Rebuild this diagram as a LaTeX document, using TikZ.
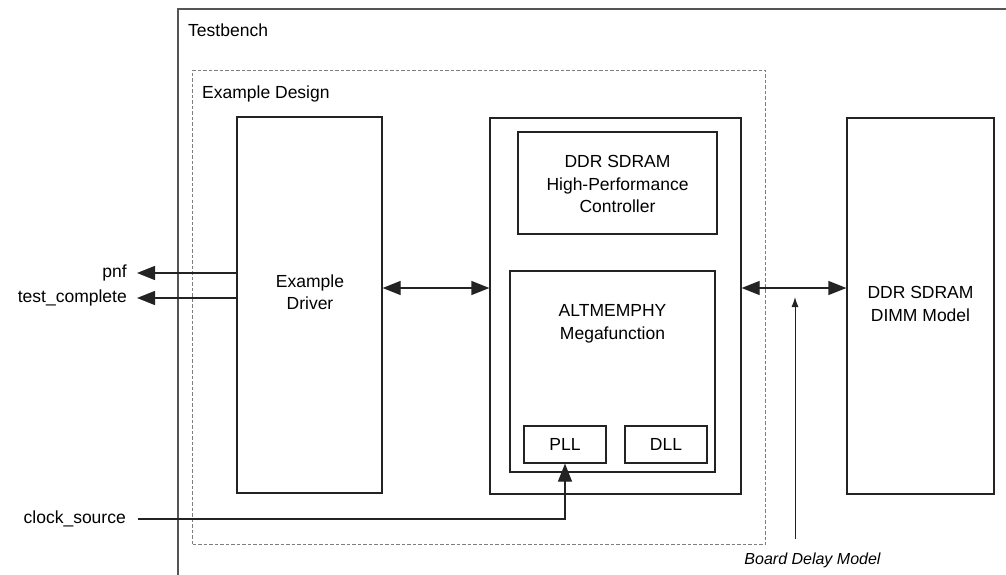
\documentclass[tikz,border=0pt]{standalone}
\usepackage{fontspec}
\setmainfont{Liberation Sans}
\usetikzlibrary{arrows.meta}
\definecolor{FrameGray}{RGB}{85,85,85}
\definecolor{DashGray}{RGB}{125,125,125}
\definecolor{LineDark}{RGB}{35,35,35}

\begin{document}
\begin{tikzpicture}[x=1pt, y=-1pt, font=\fontsize{17.5}{22.5}\selectfont]
    \tikzstyle{blk} = [draw=LineDark, line width=1.2pt, rectangle, inner sep=0pt]
    \tikzstyle{txt} = [align=center, inner sep=0pt]
    \tikzstyle{sig} = [LineDark, line width=1.2pt, -{Triangle[length=18pt,width=14pt]}]
    \tikzstyle{bus} = [LineDark, line width=1.2pt, {Triangle[length=18pt,width=14pt]}-{Triangle[length=18pt,width=14pt]}]
    \useasboundingbox (0,0) rectangle (1006,575);

    % testbench (cut off at the right and bottom)
    \draw[FrameGray, line width=1.4pt] (1006,9) -- (178,9) -- (178,575);
    \node[txt, anchor=west] (tb) at (188,30) {Testbench};

    % example design
    \node[draw=DashGray, line width=1pt, dash pattern=on 3.5pt off 2pt, inner sep=0pt,
          minimum width=573pt, minimum height=474pt, anchor=north west] (ed) at (192,70) {};
    \node[txt, anchor=west] (edl) at (202,94) {Example Design};

    \node[blk, minimum width=145pt, minimum height=376pt] (drv) at (309.5,305) {};
    \node[txt] (drvl) at (310,292) {Example\\Driver};

    \node[blk, minimum width=251pt, minimum height=376pt] (mid) at (615.5,306) {};
    \node[blk, minimum width=199pt, minimum height=102pt] (hpc) at (617.5,183) {};
    \node[txt] (hpcl) at (617.5,184) {DDR SDRAM\\High-Performance\\Controller};
    \node[blk, minimum width=205pt, minimum height=201pt] (phy) at (612.5,371.5) {};
    \node[txt] (phyl) at (612.5,324) {ALTMEMPHY\\Megafunction};
    \node[blk, minimum width=82pt, minimum height=37pt] (pll) at (565,444.5) {PLL};
    \node[blk, minimum width=82pt, minimum height=37pt] (dll) at (666,444.5) {DLL};

    \node[blk, minimum width=147pt, minimum height=376pt] (dimm) at (920.5,306) {};
    \node[txt] (dimml) at (920.5,304) {DDR SDRAM\\DIMM Model};

    % ports
    \node[txt, anchor=east] (pnf) at (127,273) {pnf};
    \node[txt, anchor=east] (tc) at (127,298) {test\_complete};
    \node[txt, anchor=east] (clk) at (126,519) {clock\_source};

    \coordinate (lvl) at (0,288);
    \draw[bus] (drv.east |- lvl) -- (mid.west |- lvl);
    \draw[bus] (mid.east |- lvl) -- (dimm.west |- lvl);

    \draw[sig] (drv.west |- pnf) -- ([xshift=10pt]pnf.east);
    \draw[sig] (drv.west |- tc) -- ([xshift=10pt]tc.east);
    \draw[sig] ([xshift=12pt]clk.east) -| (pll.south);

    % board delay
    \node[txt, font=\itshape\fontsize{16}{19}\selectfont] (bdm) at (812.5,560) {Board Delay Model};
    \coordinate (bdlo) at (795,539);
    \coordinate (bdhi) at (795,297);
    \draw[LineDark, line width=1pt, -{Latex[length=10pt,width=7pt]}] (bdlo) -- (bdhi);
\end{tikzpicture}
\end{document}
